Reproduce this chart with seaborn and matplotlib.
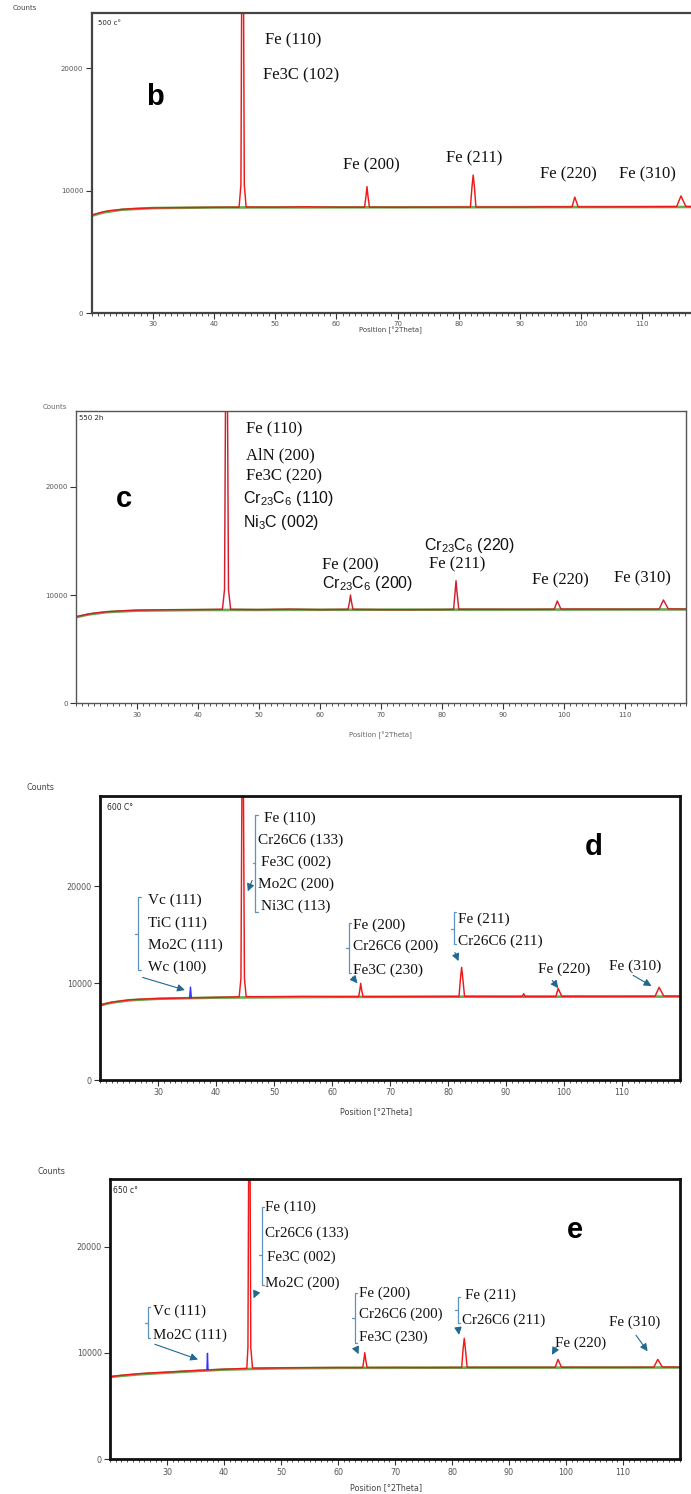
import matplotlib
matplotlib.use("Agg")
import matplotlib.pyplot as plt
from matplotlib.ticker import MultipleLocator
import seaborn as sns

# ---- data ----
# b : 500 c
theta_b = [20, 21, 22, 23, 25, 27, 30, 35, 40, 44.1, 44.4, 44.67, 44.95, 45.25, 50, 55, 60,
           64.6, 64.85, 65.0, 65.15, 65.4, 70, 75, 80, 81.9, 82.15, 82.35, 82.55, 82.8,
           90, 95, 98.5, 98.95, 99.5, 105, 110, 115.6, 116.3, 117.1, 118]
counts_b = [8000, 8150, 8280, 8370, 8470, 8540, 8590, 8620, 8640, 8650, 10500, 45000, 10500, 8660,
            8650, 8680, 8650, 8650, 9600, 10330, 9600, 8650, 8640, 8650, 8660, 8660, 10300, 11280,
            10300, 8660, 8660, 8680, 8680, 9480, 8680, 8680, 8690, 8700, 9570, 8710, 8700]
bg_theta_b = [20, 22, 25, 30, 40, 60, 80, 100, 118]
bg_counts_b = [7950, 8230, 8450, 8580, 8630, 8640, 8650, 8660, 8670]

# c : 550 2h
theta_c = [20, 21, 22, 23, 25, 27, 30, 35, 40, 44.0, 44.35, 44.67, 45.0, 45.35, 50, 55, 60,
           64.6, 64.85, 65.0, 65.15, 65.4, 70, 75, 80, 81.9, 82.15, 82.3, 82.45, 82.75,
           90, 95, 98.4, 98.9, 99.5, 105, 110, 115.6, 116.3, 117.1, 120]
counts_c = [8000, 8120, 8240, 8330, 8450, 8530, 8600, 8640, 8650, 8680, 10500, 45000, 10500, 8680,
            8650, 8700, 8650, 8680, 9400, 10000, 9400, 8680, 8650, 8650, 8660, 8680, 10300, 11320,
            10300, 8690, 8680, 8680, 8690, 9450, 8700, 8700, 8690, 8700, 9540, 8720, 8700]
bg_theta_c = [20, 22, 25, 30, 40, 60, 80, 100, 120]
bg_counts_c = [7950, 8200, 8420, 8560, 8620, 8640, 8650, 8660, 8670]

# d : 600 C
theta_d = [20, 21, 22, 23, 25, 27, 30, 35, 40, 44.0, 44.3, 44.6, 44.9, 45.2, 50, 55, 60,
           64.6, 64.8, 64.95, 65.1, 65.35, 70, 75, 80, 81.9, 82.15, 82.35, 82.55, 82.85,
           90, 92.8, 93.05, 93.3, 95, 98.6, 99.0, 99.6, 105, 110, 115.7, 116.4, 117.2, 120]
counts_d = [7740, 7890, 8020, 8110, 8260, 8340, 8400, 8470, 8520, 8580, 10500, 45000, 10500, 8600,
            8600, 8620, 8600, 8600, 9300, 9970, 9300, 8600, 8600, 8610, 8620, 8620, 10500, 11620,
            10500, 8630, 8620, 8620, 8900, 8620, 8620, 8620, 9450, 8640, 8630, 8630, 8640, 9560,
            8660, 8640]
bg_theta_d = [20, 22, 25, 30, 40, 60, 80, 100, 120]
bg_counts_d = [7700, 7980, 8220, 8380, 8500, 8570, 8590, 8600, 8610]
blue_theta_d = [35.45, 35.6, 35.75]
blue_counts_d = [8450, 9590, 8450]

# e : 650 c
theta_e = [20, 22, 25, 27, 30, 33, 36, 40, 44.0, 44.2, 44.45, 44.7, 45.0, 50, 55, 60,
           64.35, 64.55, 64.7, 64.85, 65.1, 70, 75, 80, 81.7, 81.95, 82.15, 82.35, 82.65,
           90, 95, 98.1, 98.6, 99.2, 105, 110, 115.4, 116.1, 116.9, 120]
counts_e = [7770, 7900, 8050, 8120, 8200, 8300, 8380, 8470, 8550, 10500, 45000, 10500, 8580,
            8600, 8620, 8630, 8630, 9400, 10030, 9400, 8630, 8640, 8630, 8640, 8640, 10400, 11380,
            10400, 8650, 8650, 8650, 8650, 9400, 8660, 8650, 8650, 8660, 9400, 8680, 8660]
bg_theta_e = [20, 25, 30, 40, 50, 60, 80, 100, 120]
bg_counts_e = [7750, 7990, 8150, 8440, 8560, 8600, 8620, 8630, 8640]
blue_theta_e = [37.0, 37.1, 37.2]
blue_counts_e = [8420, 9970, 8420]

x_ticks = [30, 40, 50, 60, 70, 80, 90, 100, 110]
y_ticks = [0, 10000, 20000]

# ---- styling ----
sns.set_theme(style="white")
plt.rcParams["font.family"] = ["DejaVu Sans"]
plt.rcParams["mathtext.fontset"] = "custom"
plt.rcParams["mathtext.rm"] = "Liberation Sans"
plt.rcParams["mathtext.it"] = "Liberation Sans:italic"

RED = "#f01818"
GREEN = "#6aaa55"
BLUE = "#3333ff"
BRK = "#5f93bd"
ARR = "#22688f"
SERIF = "Liberation Serif"

W, H = 691, 1494
fig = plt.figure(figsize=(W / 100, H / 100), dpi=100)


def panel(left, right, top, bottom):
    return fig.add_axes([left / W, 1 - bottom / H, (right - left) / W, (bottom - top) / H])


def draw(ax, th, ct, bth, bct, xlim, ylim, spine_col, spine_lw, data_col=RED, tsize=5):
    sns.lineplot(x=bth, y=bct, ax=ax, color=GREEN, lw=1.9, estimator=None, sort=False)
    sns.lineplot(x=th, y=ct, ax=ax, color=data_col, lw=1.05, estimator=None, sort=False)
    ax.set_xlim(*xlim)
    ax.set_ylim(*ylim)
    ax.set_xticks(x_ticks)
    ax.set_yticks(y_ticks)
    ax.set_yticklabels([str(v) for v in y_ticks])
    ax.xaxis.set_minor_locator(MultipleLocator(1))
    ax.tick_params(which="major", direction="out", length=4, width=0.8, color="#333333",
                   labelsize=tsize, labelcolor="#555555", pad=2, left=True, bottom=True)
    ax.tick_params(axis="x", which="minor", direction="out", length=2.5, width=0.6,
                   color="#333333", bottom=True)
    ax.set_xlabel("")
    ax.set_ylabel("")
    for s in ax.spines.values():
        s.set_color(spine_col)
        s.set_linewidth(spine_lw)


def letter(ax, s, x, y):
    ax.text(x, y, s, fontsize=21, fontweight="bold", family="Liberation Sans",
            color="black", ha="center", va="center")


def bracket(ax, x, y0, y1, ym, tab, tick):
    ax.plot([x + tab, x, x, x + tab], [y1, y1, y0, y0], color=BRK, lw=0.9)
    ax.plot([x, x - tick], [ym, ym], color=BRK, lw=0.9)


def arrow(ax, tail, head):
    ax.annotate("", xy=head, xytext=tail,
                arrowprops=dict(arrowstyle="-|>", color=ARR, lw=0.8, mutation_scale=11))


def labels(ax, items, size, family=SERIF):
    for s, x, y in items:
        ax.text(x, y, s, fontsize=size, family=family, ha="left", va="center", color="#111111")


# ---- b ----
ax = panel(91.6, 691, 13, 313)
draw(ax, theta_b, counts_b, bg_theta_b, bg_counts_b, (20, 117.94), (0, 24530), "#444444", 1.6)
ax.spines["right"].set_visible(False)
ax.text(0.01, 0.975, "500 c°", transform=ax.transAxes, fontsize=5, va="top")
letter(ax, "b", 30.4, 17660)
labels(ax, [("Fe (110)", 48.3, 22320), ("Fe3C (102)", 48.0, 19460), ("Fe (200)", 61.1, 12100),
            ("Fe (211)", 77.9, 12670), ("Fe (220)", 93.3, 11370), ("Fe (310)", 106.2, 11370)], 12)
fig.text(13 / W, 1 - 8 / H, "Counts", fontsize=5, color="#444444", va="center")
fig.text(390 / W, 1 - 330 / H, "Position [°2Theta]", fontsize=5, color="#444444",
         ha="center", va="center")

# ---- c ----
ax = panel(76, 686, 411, 703.3)
draw(ax, theta_c, counts_c, bg_theta_c, bg_counts_c, (20, 120), (0, 27000), "#555555", 1.0,
     data_col="#d0202f")
ax.text(0.005, 0.985, "550 2h", transform=ax.transAxes, fontsize=5, va="top")
letter(ax, "c", 27.9, 18850)
labels(ax, [("Fe (110)", 47.8, 25310), ("AlN (200)", 47.8, 22910), ("Fe3C (220)", 47.8, 20980),
            ("Fe (200)", 60.4, 12760), ("Fe (211)", 77.8, 12850), ("Fe (220)", 94.7, 11380),
            ("Fe (310)", 108.2, 11560)], 12)
labels(ax, [(r"Cr$_{23}$C$_6$ (110)", 47.4, 18950), (r"Ni$_3$C (002)", 47.4, 16730),
            (r"Cr$_{23}$C$_6$ (200)", 60.4, 11100), (r"Cr$_{23}$C$_6$ (220)", 77.0, 14610)],
       11.5, family="Liberation Sans")
fig.text(43 / W, 1 - 407 / H, "Counts", fontsize=5, color="#666666", va="center")
fig.text(380 / W, 1 - 735 / H, "Position [°2Theta]", fontsize=5, color="#666666",
         ha="center", va="center")

# ---- d ----
ax = panel(100, 680, 796, 1080)
draw(ax, theta_d, counts_d, bg_theta_d, bg_counts_d, (20, 120), (0, 29300), "#111111", 2.0,
     tsize=5.8)
sns.lineplot(x=blue_theta_d, y=blue_counts_d, ax=ax, color=BLUE, lw=1.0, estimator=None, sort=False)
ax.text(0.012, 0.961, "600 C°", transform=ax.transAxes, fontsize=5.5, va="center")
letter(ax, "d", 105.2, 24050)
labels(ax, [("Fe (110)", 48.2, 27040), ("Cr26C6 (133)", 47.3, 24700), ("Fe3C (002)", 47.7, 22430),
            ("Mo2C (200)", 47.3, 20230), ("Ni3C (113)", 47.7, 17880),
            ("Vc (111)", 28.3, 18500), ("TiC (111)", 28.3, 16170), ("Mo2C (111)", 28.3, 13930),
            ("Wc (100)", 28.3, 11630),
            ("Fe (200)", 63.7, 16000), ("Cr26C6 (200)", 63.7, 13760), ("Fe3C (230)", 63.7, 11350),
            ("Fe (211)", 81.7, 16610), ("Cr26C6 (211)", 81.7, 14270),
            ("Fe (220)", 95.5, 11460), ("Fe (310)", 107.8, 11760)], 11)
bracket(ax, 46.8, 17340, 27350, 22430, 0.4, 0.5)
bracket(ax, 26.6, 11350, 18920, 15070, 0.4, 0.5)
bracket(ax, 62.9, 11040, 16200, 13590, 0.4, 0.5)
bracket(ax, 81.0, 13990, 17290, 15550, 0.4, 0.5)
arrow(ax, (46.4, 20850), (45.3, 19200))
arrow(ax, (26.9, 10660), (35.1, 9200))
arrow(ax, (63.2, 10840), (64.7, 9750))
arrow(ax, (81.0, 13420), (82.0, 12000))
arrow(ax, (97.7, 10500), (99.3, 9250))
arrow(ax, (111.5, 10940), (115.5, 9550))
fig.text(27 / W, 1 - 787 / H, "Counts", fontsize=5.8, color="#444444", va="center")
fig.text(376 / W, 1 - 1112 / H, "Position [°2Theta]", fontsize=5.8, color="#444444",
         ha="center", va="center")

# ---- e ----
ax = panel(110, 680, 1179.3, 1459.3)
draw(ax, theta_e, counts_e, bg_theta_e, bg_counts_e, (20, 120), (0, 26340), "#111111", 2.0,
     tsize=5.8)
sns.lineplot(x=blue_theta_e, y=blue_counts_e, ax=ax, color=BLUE, lw=1.0, estimator=None, sort=False)
ax.text(0.005, 0.959, "650 c°", transform=ax.transAxes, fontsize=5.5, va="center")
letter(ax, "e", 101.5, 21570)
labels(ax, [("Fe (110)", 47.2, 23700), ("Cr26C6 (133)", 47.2, 21260), ("Fe3C (002)", 47.5, 19000),
            ("Mo2C (200)", 47.2, 16560),
            ("Vc (111)", 27.5, 13950), ("Mo2C (111)", 27.5, 11690),
            ("Fe (200)", 63.7, 15620), ("Cr26C6 (200)", 63.7, 13670), ("Fe3C (230)", 63.7, 11480),
            ("Fe (211)", 82.2, 15460), ("Cr26C6 (211)", 81.8, 13040),
            ("Fe (220)", 98.0, 10910), ("Fe (310)", 107.5, 12850)], 10.8)
bracket(ax, 46.6, 16400, 23730, 19220, 0.4, 0.5)
bracket(ax, 26.7, 11380, 14360, 12850, 0.4, 0.5)
bracket(ax, 62.9, 10940, 15640, 13260, 0.4, 0.5)
bracket(ax, 81.0, 12790, 15300, 14040, 0.4, 0.5)
arrow(ax, (45.9, 16020), (45.0, 14900))
arrow(ax, (27.4, 10910), (35.9, 9300))
arrow(ax, (62.9, 10750), (63.8, 9650))
arrow(ax, (81.0, 12630), (81.3, 11450))
arrow(ax, (98.5, 10750), (97.3, 9600))
arrow(ax, (112.0, 11880), (114.6, 9950))
fig.text(37 / W, 1 - 1171 / H, "Counts", fontsize=5.8, color="#444444", va="center")
fig.text(386 / W, 1 - 1488 / H, "Position [°2Theta]", fontsize=5.8, color="#444444",
         ha="center", va="center")

fig.savefig("out.png", dpi=100)
